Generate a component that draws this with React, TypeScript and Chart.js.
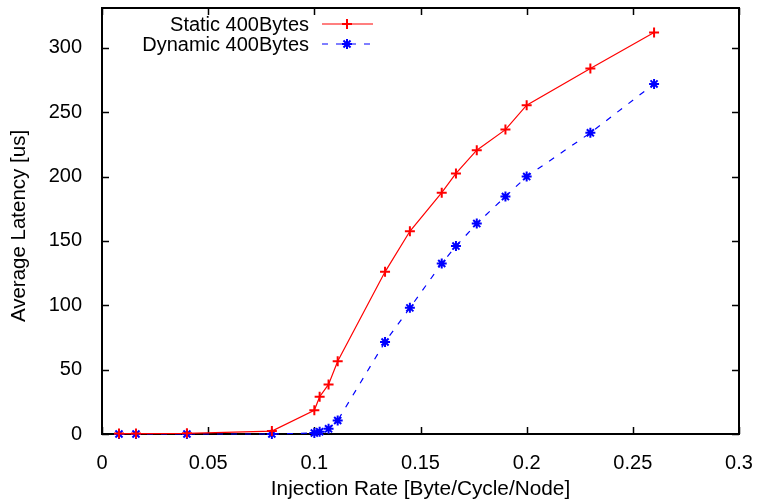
import React, { useEffect, useRef } from 'react';
import { Chart, registerables } from 'chart.js';

Chart.register(...registerables);

const injectionRates = [0.008, 0.016, 0.04, 0.08, 0.1, 0.1025, 0.1067, 0.111, 0.1333, 0.145, 0.16, 0.1667, 0.1765, 0.19, 0.2, 0.23, 0.26];
const staticLatency = [0.3, 0.3, 0.5, 2.3, 18.5, 29, 38.5, 56.5, 126, 157.5, 187.5, 202.5, 220.5, 236.5, 255.5, 284, 312];
const dynamicLatency = [0, 0, 0, 0, 0.8, 1.8, 4, 10.5, 71.5, 98, 132.5, 146, 163.5, 184.5, 200, 234, 272];
const xTicks = [0, 0.05, 0.1, 0.15, 0.2, 0.25, 0.3];
const yTicks = [0, 50, 100, 150, 200, 250, 300];
const seriesLabels = ['Static 400Bytes', 'Dynamic 400Bytes'];
const xTitle = 'Injection Rate [Byte/Cycle/Node]';
const yTitle = 'Average Latency [us]';

const FONT = "'Liberation Sans', Arial, Helvetica, sans-serif";
const RED = '#ff0000';
const BLUE = '#0000ff';
const DASH = [6, 8];

function drawCross(ctx: CanvasRenderingContext2D, x: number, y: number, r: number) {
  ctx.beginPath();
  ctx.moveTo(x - r, y); ctx.lineTo(x + r, y);
  ctx.moveTo(x, y - r); ctx.lineTo(x, y + r);
  ctx.stroke();
}
function drawStar(ctx: CanvasRenderingContext2D, x: number, y: number, r: number) {
  drawCross(ctx, x, y, r);
  const d = r * Math.SQRT1_2;
  ctx.beginPath();
  ctx.moveTo(x - d, y - d); ctx.lineTo(x + d, y + d);
  ctx.moveTo(x - d, y + d); ctx.lineTo(x + d, y - d);
  ctx.stroke();
}

const framePlugin = {
  id: 'gnuframe',
  beforeDatasetsDraw(chart: any) {
    const { ctx, chartArea, scales } = chart;
    const { left, right, top, bottom } = chartArea;
    ctx.save();
    ctx.strokeStyle = '#000';
    ctx.lineWidth = 1.5;
    const L = 7;
    ctx.beginPath();
    xTicks.forEach((v) => {
      const x = Math.round(scales.x.getPixelForValue(v)) + 0.5;
      ctx.moveTo(x, bottom); ctx.lineTo(x, bottom - L);
      ctx.moveTo(x, top); ctx.lineTo(x, top + L);
    });
    yTicks.forEach((v) => {
      const y = Math.round(scales.y.getPixelForValue(v)) + 0.5;
      ctx.moveTo(left, y); ctx.lineTo(left + L, y);
      ctx.moveTo(right, y); ctx.lineTo(right - L, y);
    });
    ctx.stroke();
    ctx.lineWidth = 2;
    ctx.strokeRect(left, top, right - left, bottom - top);
    ctx.restore();
  },
  afterDatasetsDraw(chart: any) {
    const { ctx, chartArea } = chart;
    ctx.save();
    // y-axis title
    ctx.save();
    ctx.font = `20.5px ${FONT}`;
    ctx.fillStyle = '#000';
    ctx.textAlign = 'center';
    ctx.textBaseline = 'middle';
    ctx.translate(19.5, (chartArea.top + chartArea.bottom) / 2 + 5);
    ctx.rotate(-Math.PI / 2);
    ctx.fillText(yTitle, 0, 0);
    ctx.restore();
    // legend
    ctx.font = `20px ${FONT}`;
    ctx.fillStyle = '#000';
    ctx.textAlign = 'right';
    ctx.textBaseline = 'middle';
    const textRight = 309;
    const lx0 = 322, lx1 = 373, mx = 347;
    const rows = [24, 44];
    ctx.fillText(seriesLabels[0], textRight, rows[0] + 1);
    ctx.strokeStyle = RED;
    ctx.lineWidth = 1.2;
    ctx.setLineDash([]);
    ctx.beginPath(); ctx.moveTo(lx0, rows[0]); ctx.lineTo(lx1, rows[0]); ctx.stroke();
    ctx.lineWidth = 2;
    drawCross(ctx, mx, rows[0], 5);
    ctx.fillText(seriesLabels[1], textRight, rows[1] + 1);
    ctx.strokeStyle = BLUE;
    ctx.lineWidth = 1.2;
    ctx.setLineDash(DASH);
    ctx.beginPath(); ctx.moveTo(lx0, rows[1]); ctx.lineTo(lx1, rows[1]); ctx.stroke();
    ctx.setLineDash([]);
    ctx.lineWidth = 2;
    drawStar(ctx, mx, rows[1], 5);
    ctx.restore();
  },
};

export default function App() {
  const ref = useRef<HTMLCanvasElement | null>(null);
  useEffect(() => {
    if (!ref.current) return;
    const chart = new Chart(ref.current, {
      type: 'line',
      data: {
        datasets: [
          {
            label: seriesLabels[0],
            data: injectionRates.map((x, i) => ({ x, y: staticLatency[i] })),
            borderColor: RED,
            backgroundColor: RED,
            borderWidth: 1.2,
            pointStyle: 'cross',
            pointRadius: 5,
            pointBorderWidth: 2,
            pointBorderColor: RED,
            pointBackgroundColor: RED,
            tension: 0,
            clip: false as any,
          },
          {
            label: seriesLabels[1],
            data: injectionRates.map((x, i) => ({ x, y: dynamicLatency[i] })),
            borderColor: BLUE,
            backgroundColor: BLUE,
            borderWidth: 1.2,
            borderDash: DASH,
            pointStyle: 'star',
            pointRadius: 5,
            pointBorderWidth: 2,
            pointBorderColor: BLUE,
            pointBackgroundColor: BLUE,
            tension: 0,
            clip: false as any,
          },
        ],
      },
      options: {
        responsive: false,
        animation: false,
        devicePixelRatio: 1,
        layout: { padding: 0 },
        plugins: { legend: { display: false }, tooltip: { enabled: false } },
        scales: {
          x: {
            type: 'linear',
            min: 0,
            max: 0.3,
            grid: { display: false },
            border: { display: false },
            afterBuildTicks: (s: any) => { s.ticks = xTicks.map((v) => ({ value: v })); },
            afterFit: (s: any) => { s.height = 68; s.paddingLeft = 0; s.paddingRight = 20; },
            ticks: {
              color: '#000',
              font: { family: FONT, size: 20 },
              padding: 9,
              maxRotation: 0,
              callback: (v: any) => String(v),
            },
            title: {
              display: true,
              text: xTitle,
              color: '#000',
              font: { family: FONT, size: 20.8 },
              padding: { top: 2, bottom: 0 },
            },
          },
          y: {
            type: 'linear',
            min: 0,
            max: 331,
            grid: { display: false },
            border: { display: false },
            afterBuildTicks: (s: any) => { s.ticks = yTicks.map((v) => ({ value: v })); },
            afterFit: (s: any) => { s.width = 102; s.paddingTop = 8; s.paddingBottom = 0; },
            ticks: {
              color: '#000',
              font: { family: FONT, size: 20 },
              padding: 12,
              callback: (v: any) => String(v),
            },
            title: { display: false, text: yTitle },
          },
        },
      },
      plugins: [framePlugin],
    });
    return () => chart.destroy();
  }, []);
  return (
    <div style={{ position: 'absolute', left: 0, top: 0, width: 759, height: 502, background: '#fff' }}>
      <canvas ref={ref} width={759} height={502} style={{ display: 'block' }} />
    </div>
  );
}
